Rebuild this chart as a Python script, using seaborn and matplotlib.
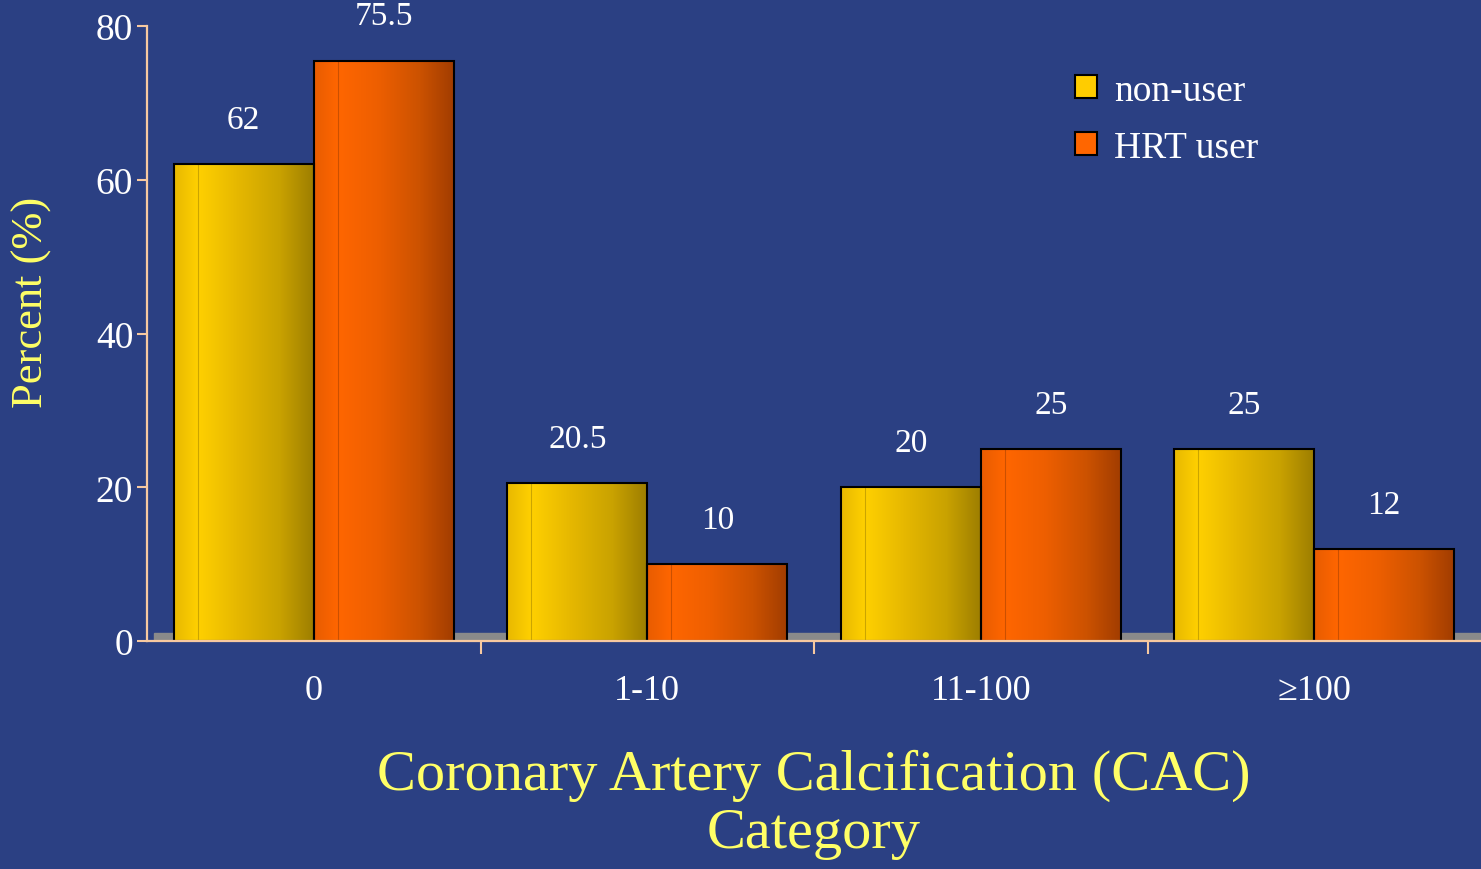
import numpy as np
import pandas as pd
import matplotlib
matplotlib.use('Agg')
import matplotlib.pyplot as plt
from matplotlib.colors import LinearSegmentedColormap
import seaborn as sns

# data
categories = ['0', '1-10', '11-100', '≥100']
groups = ['non-user', 'HRT user']
non_user = [62, 20.5, 20, 25]
hrt_user = [75.5, 10, 25, 12]

df = pd.DataFrame({
    'CAC': categories * 2,
    'group': [groups[0]] * 4 + [groups[1]] * 4,
    'pct': non_user + hrt_user,
})

plt.rcParams['font.family'] = ['Liberation Serif', 'DejaVu Serif']

bg = '#2b4083'
peach = '#f7c9a0'
yellow = '#ffcc00'
orange = '#ff6600'

fig = plt.figure(figsize=(14.81, 8.70), dpi=100, facecolor=bg)
ax = fig.add_axes([0.0993, 0.262, 0.9007, 0.707])
ax.patch.set_alpha(0)

sns.barplot(data=df, x='CAC', y='pct', hue='group', palette=[yellow, orange],
            width=0.84, edgecolor='black', linewidth=1.5, saturation=1,
            ax=ax, zorder=2)

ax.set_xlim(-0.5, 3.5)
ax.set_ylim(0, 80)
ax.set_yticks([0, 20, 40, 60, 80])

# grey floor
ax.axhspan(0, 1.1, xmin=0.005, color='#8a8a8a', zorder=1)

for s in ['top', 'right']:
    ax.spines[s].set_visible(False)
for s in ['left', 'bottom']:
    ax.spines[s].set_color(peach)
    ax.spines[s].set_linewidth(1.6)

ax.tick_params(axis='y', colors=peach, length=7, width=1.5, labelsize=27,
               labelcolor='white', pad=3)
ax.tick_params(axis='x', which='major', length=0, labelsize=26,
               labelcolor='white', pad=24)
ax.set_xticks([0.5, 1.5, 2.5], minor=True)
ax.tick_params(axis='x', which='minor', length=9, width=1.5, colors=peach,
               direction='out')

ax.set_ylabel('Percent (%)', color='#ffff66', fontsize=32)
ax.yaxis.set_label_coords(-0.071, 0.553)
ax.set_xlabel('Coronary Artery Calcification (CAC)\nCategory', color='#ffff66',
              fontsize=42, linespacing=1.15)
ax.xaxis.set_label_coords(0.5, -0.175)

for cont in ax.containers:
    ax.bar_label(cont, fmt='%g', padding=21, color='white', fontsize=24)

sns.move_legend(ax, 'upper left', bbox_to_anchor=(0.67, 0.978), frameon=False,
                title=None, fontsize=27, labelcolor='white',
                handlelength=0.6, handleheight=0.6, handletextpad=0.45,
                labelspacing=0.6)

# shaded cylinder look on each bar
shades = {
    yellow: ['#e8b800', '#ffd000', '#e6b800', '#c9a200', '#9c7d00'],
    orange: ['#e85c00', '#ff6600', '#ee5f00', '#cc5200', '#a03c00'],
}
grad = np.linspace(0, 1, 256).reshape(1, -1)
for bar in list(ax.patches):
    if bar.get_height() <= 1.2:
        continue
    fc = matplotlib.colors.to_hex(bar.get_facecolor())
    key = yellow if fc == yellow else orange
    cmap = LinearSegmentedColormap.from_list(
        'g', list(zip([0, 0.17, 0.45, 0.75, 1], shades[key])))
    x0, w, h = bar.get_x(), bar.get_width(), bar.get_height()
    im = ax.imshow(grad, extent=[x0, x0 + w, 0, h], aspect='auto', cmap=cmap,
                   zorder=1.9)
    im.set_clip_path(bar)
    bar.set_facecolor('none')
    ax.plot([x0 + 0.17 * w] * 2, [0, h], color='black', alpha=0.2, lw=0.8,
            zorder=2.1)

ax.set_xlim(-0.5, 3.5)
ax.set_ylim(0, 80)

fig.savefig('out.png', dpi=100, facecolor=bg)
